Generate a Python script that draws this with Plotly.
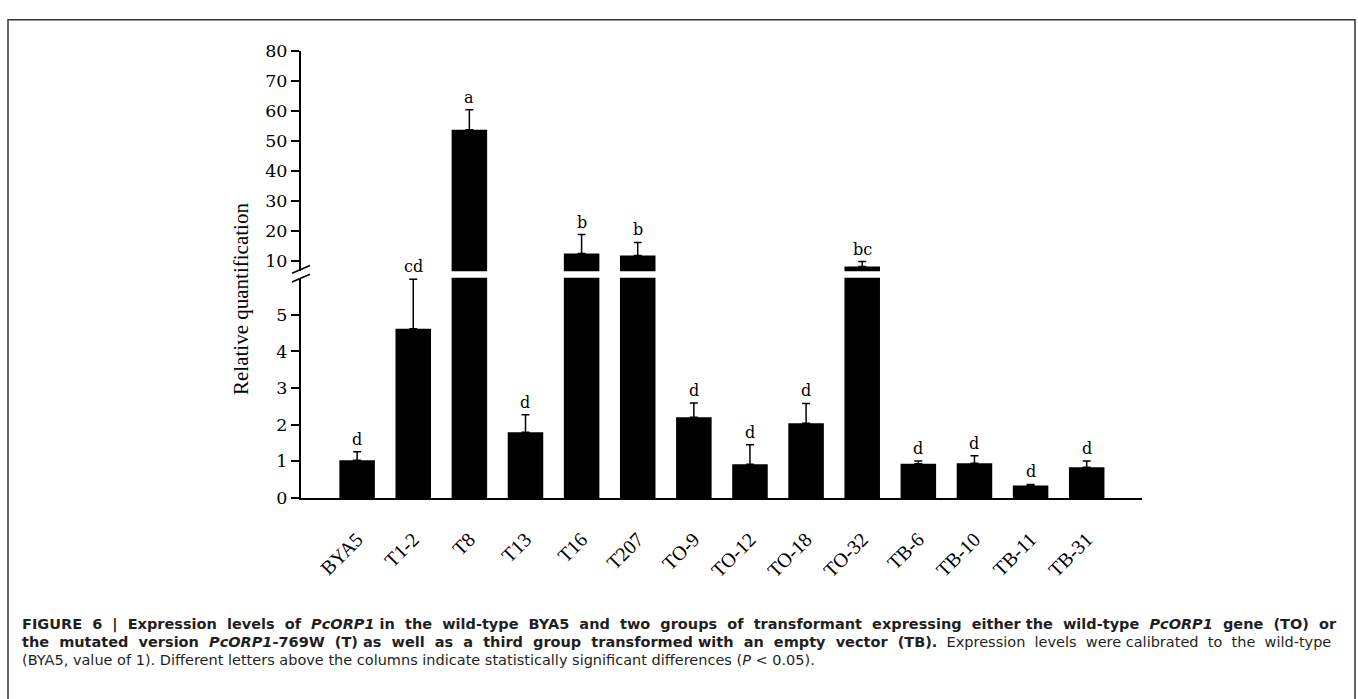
import plotly.graph_objects as go

# ---------------- data ----------------
categories = ["BYA5", "T1-2", "T8", "T13", "T16", "T207", "TO-9", "TO-12",
              "TO-18", "TO-32", "TB-6", "TB-10", "TB-11", "TB-31"]
values = [1.03, 4.62, 53.8, 1.79, 12.6, 11.9, 2.20, 0.92, 2.04, 8.3,
          0.93, 0.95, 0.34, 0.84]
errors = [0.23, 1.35, 6.7, 0.48, 6.3, 4.4, 0.39, 0.53, 0.54, 1.6,
          0.08, 0.20, 0.03, 0.17]
letters = ["d", "cd", "a", "d", "b", "b", "d", "d", "d", "bc",
           "d", "d", "d", "d"]
lower_ticks = [0, 1, 2, 3, 4, 5]
upper_ticks = [10, 20, 30, 40, 50, 60, 70, 80]
lower_range = [0, 6.01]
upper_range = [6.67, 80]

W, H = 1358, 699
SERIF = "DejaVu Serif"
SERIF2 = "Liberation Serif"
SANS = "DejaVu Sans"

# layout geometry (pixels)
x_left, x_right = 301, 1141.7
up_top, up_bot = 42.3, 269.0
lo_top, lo_bot = 275.7, 502.3


def px(x):
    return x / W


def py(y):
    return 1 - y / H


def justify(text, n_extra):
    """Widen n_extra of the word gaps with a non-breaking space."""
    parts = text.split(" ")
    gaps = len(parts) - 1
    chosen = set(round(k * gaps / n_extra) for k in range(n_extra)) if n_extra else set()
    out = parts[0]
    for g in range(gaps):
        out += ("\u00a0 " if g in chosen else " ") + parts[g + 1]
    return out


idx = list(range(len(categories)))
lower_err = [e if v + e <= lower_range[1] else 0 for v, e in zip(values, errors)]
upper_err = [e if v > lower_range[1] else 0 for v, e in zip(values, errors)]

fig = go.Figure()
fig.add_trace(go.Bar(
    x=idx, y=values, width=0.633, marker=dict(color="black", line=dict(width=0)),
    error_y=dict(type="data", array=lower_err, arrayminus=[0] * len(values),
                 symmetric=False, color="black", thickness=1.5, width=4),
    xaxis="x", yaxis="y", showlegend=False, hoverinfo="skip"))
fig.add_trace(go.Bar(
    x=idx, y=values, width=0.633, marker=dict(color="black", line=dict(width=0)),
    error_y=dict(type="data", array=upper_err, arrayminus=[0] * len(values),
                 symmetric=False, color="black", thickness=1.5, width=4),
    xaxis="x2", yaxis="y2", showlegend=False, hoverinfo="skip"))

annotations = []
for i, (v, e, lab) in enumerate(zip(values, errors, letters)):
    top = v + e
    ya = "y2" if v > lower_range[1] else "y"
    annotations.append(dict(
        x=i, y=top, xref="x", yref=ya, text=lab, showarrow=False,
        yanchor="bottom", xanchor="center", yshift=1,
        font=dict(family=SERIF, size=16, color="black")))

# y-axis title
annotations.append(dict(
    x=px(241.5), y=py(298), xref="paper", yref="paper",
    text="Relative quantification", textangle=-90, showarrow=False,
    font=dict(family=SERIF2, size=21, color="black"),
    xanchor="center", yanchor="middle"))

# caption
cap = [
    justify("<b>FIGURE 6 | Expression levels of <i>PcORP1</i> in the wild-type BYA5 and two groups of transformant expressing either the wild-type <i>PcORP1</i> gene (TO) or</b>", 21),
    justify("<b>the mutated version <i>PcORP1</i>-769W (T) as well as a third group transformed with an empty vector (TB).</b> Expression levels were calibrated to the wild-type", 20),
    "(BYA5, value of 1). Different letters above the columns indicate statistically significant differences (<i>P</i> &lt; 0.05).",
]
for k, (t, yy) in enumerate(zip(cap, [633, 651, 669])):
    annotations.append(dict(
        x=px(20), y=py(yy), xref="paper", yref="paper", text=t,
        showarrow=False, xanchor="left", yanchor="middle", align="left",
        font=dict(family=SANS, size=14.5, color="#231f20")))

shapes = [
    # outer frame
    dict(type="rect", xref="paper", yref="paper", x0=px(8), x1=px(1355),
         y0=py(715), y1=py(10), line=dict(color="#333333", width=1.5)),
    # axis break slashes
    dict(type="line", xref="paper", yref="paper", x0=px(292), y0=py(271),
         x1=px(310), y1=py(263), line=dict(color="black", width=1.5)),
    dict(type="line", xref="paper", yref="paper", x0=px(292), y0=py(280),
         x1=px(310), y1=py(272), line=dict(color="black", width=1.5)),
]

axis_common = dict(showgrid=False, zeroline=False, showline=True,
                   linecolor="black", linewidth=2, ticks="outside",
                   ticklen=8, tickwidth=2, tickcolor="black",
                   tickfont=dict(family=SERIF, size=17.5, color="black"))

fig.update_layout(
    width=W, height=H, margin=dict(l=0, r=0, t=0, b=0),
    paper_bgcolor="white", plot_bgcolor="white",
    bargap=0.367,
    xaxis=dict(domain=[px(x_left), px(x_right)], anchor="y",
               range=[-1, 13.98], tickmode="array", tickvals=idx,
               ticktext=categories, tickangle=-45, showgrid=False,
               zeroline=False, showline=True, linecolor="black",
               linewidth=2, ticks="", ticklabelstandoff=20,
               tickfont=dict(family=SERIF2, size=20, color="black")),
    xaxis2=dict(domain=[px(x_left), px(x_right)], anchor="y2",
                matches="x", visible=False),
    yaxis=dict(domain=[py(lo_bot), py(lo_top)], anchor="x",
               range=lower_range, tickmode="array", tickvals=lower_ticks,
               **axis_common),
    yaxis2=dict(domain=[py(up_bot), py(up_top)], anchor="x2",
                range=upper_range, tickmode="array", tickvals=upper_ticks,
                **axis_common),
    annotations=annotations,
    shapes=shapes,
)

fig.write_html("out.html")
